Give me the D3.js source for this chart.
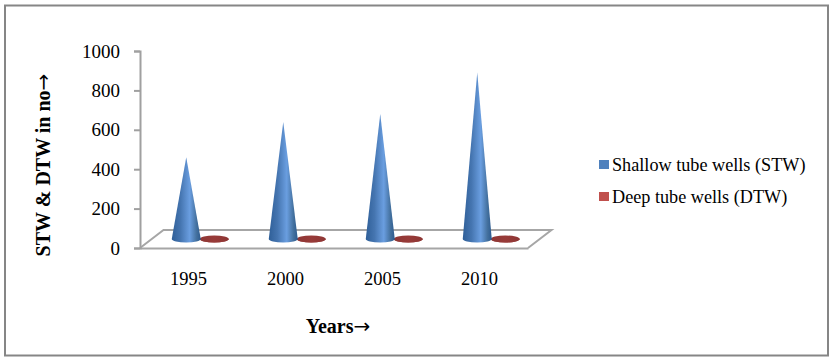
<!DOCTYPE html>
<html>
<head>
<meta charset="utf-8">
<script src="https://cdnjs.cloudflare.com/ajax/libs/d3/7.8.5/d3.min.js"></script>
<style>
html, body { margin: 0; padding: 0; background: #fff; }
text { font-family: "Liberation Serif", serif; fill: #000; }
</style>
</head>
<body>
<div id="chart"></div>
<script>
var years = ["1995", "2000", "2005", "2010"];
var seriesNames = ["Shallow tube wells (STW)", "Deep tube wells (DTW)"];
var stw = [415, 595, 635, 845];
var dtw = [4, 4, 4, 4];
var yTicks = [0, 200, 400, 600, 800, 1000];

var width = 834, height = 362;
var plotLeft = 140, plotRight = 528, plotBottom = 248, plotTop = 51;
var depthX = 23.5, depthY = 18;
var baseRx = 14.5, baseRy = 3.5;

var svg = d3.select("#chart").append("svg")
    .attr("width", width)
    .attr("height", height)
    .style("display", "block");

var defs = svg.append("defs");

function addGrad(id, stops) {
    var g = defs.append("linearGradient").attr("id", id)
        .attr("x1", "0%").attr("x2", "100%").attr("y1", "0%").attr("y2", "0%");
    stops.forEach(function(s) {
        g.append("stop").attr("offset", s[0]).attr("stop-color", s[1]);
    });
}
addGrad("blueCone", [["0%", "#2f5f98"], ["30%", "#4575b0"], ["62%", "#6a9ee0"], ["85%", "#44719f"], ["100%", "#2c5a8e"]]);
addGrad("redCone", [["0%", "#8e3634"], ["50%", "#983b39"], ["100%", "#8e3634"]]);

// outer frame
svg.append("rect")
    .attr("x", 5).attr("y", 5.5)
    .attr("width", 823).attr("height", 350)
    .attr("fill", "#fff")
    .attr("stroke", "#868686")
    .attr("stroke-width", 2);

var x = d3.scaleBand().domain(years).range([plotLeft, plotRight]);
var x1 = d3.scaleBand().domain(seriesNames).range([-28, 28]);
var y = d3.scaleLinear().domain([0, 1000]).range([plotBottom, plotTop]);

// floor
var floorLine = d3.line();
svg.append("path")
    .attr("d", floorLine([
        [plotLeft, plotBottom], [plotLeft + depthX, plotBottom - depthY],
        [plotRight + depthX, plotBottom - depthY], [plotRight, plotBottom]
    ]))
    .attr("fill", "none")
    .attr("stroke", "#a6a6a6")
    .attr("stroke-width", 2);

// axes
var xAxis = svg.append("g")
    .attr("transform", "translate(0," + plotBottom + ")")
    .call(d3.axisBottom(x).tickSize(0).tickPadding(24));
xAxis.select(".domain").attr("stroke", "#a6a6a6").attr("stroke-width", 2);
xAxis.selectAll("text").style("font-size", "18.5px").attr("font-family", null);

var yAxis = svg.append("g")
    .attr("transform", "translate(" + plotLeft + ",0)")
    .call(d3.axisLeft(y).tickValues(yTicks).tickSize(6).tickPadding(14).tickFormat(d3.format("d")));
yAxis.selectAll("path, line").attr("stroke", "#a0a0a0").attr("stroke-width", 2);
yAxis.selectAll("text").style("font-size", "19px").attr("font-family", null);

// cones stand at half depth of the floor
function conePath(cx, value) {
    var baseY = y(0) - depthY / 2;
    var tipY = y(value) - depthY / 2;
    return "M" + cx + "," + tipY +
        "L" + (cx + baseRx) + "," + baseY +
        "A" + baseRx + "," + baseRy + " 0 0 1 " + (cx - baseRx) + "," + baseY + "Z";
}
function baseEllipse(cx) {
    var baseY = y(0) - depthY / 2;
    return "M" + (cx - baseRx) + "," + baseY +
        "A" + baseRx + "," + baseRy + " 0 0 1 " + (cx + baseRx) + "," + baseY +
        "A" + baseRx + "," + baseRy + " 0 0 1 " + (cx - baseRx) + "," + baseY + "Z";
}
function centerX(year, name) {
    return x(year) + x.bandwidth() / 2 + x1(name) + x1.bandwidth() / 2 + depthX / 2;
}

svg.selectAll(".dtw")
    .data(years)
    .enter().append("path")
    .attr("class", "dtw")
    .attr("d", function(d) { return baseEllipse(centerX(d, seriesNames[1])); })
    .attr("fill", "url(#redCone)");

svg.selectAll(".dtwTip")
    .data(years)
    .enter().append("path")
    .attr("class", "dtwTip")
    .attr("d", function(d, i) { return conePath(centerX(d, seriesNames[1]), dtw[i]); })
    .attr("fill", "url(#redCone)");

svg.selectAll(".stw")
    .data(years)
    .enter().append("path")
    .attr("class", "stw")
    .attr("d", function(d, i) { return conePath(centerX(d, seriesNames[0]), stw[i]); })
    .attr("fill", "url(#blueCone)");

// axis titles
var yTitle = svg.append("text")
    .attr("transform", "translate(50,165) rotate(-90)")
    .attr("text-anchor", "middle")
    .style("font-size", "20px")
    .style("font-weight", "bold")
    .text("STW & DTW in no");
yTitle.append("tspan")
    .style("font-family", "'DejaVu Sans'")
    .style("font-weight", "normal")
    .text("→");

var xTitle = svg.append("text")
    .attr("x", 338).attr("y", 333)
    .attr("text-anchor", "middle")
    .style("font-size", "20px")
    .style("font-weight", "bold")
    .text("Years");
xTitle.append("tspan")
    .style("font-family", "'DejaVu Sans'")
    .style("font-weight", "normal")
    .text("→");

// legend
var legendColors = ["#4f81bd", "#c0504d"];
var legendY = d3.scalePoint().domain(seriesNames).range([165, 197]);
var legend = svg.selectAll(".legend")
    .data(seriesNames)
    .enter().append("g")
    .attr("class", "legend")
    .attr("transform", function(d) { return "translate(599," + legendY(d) + ")"; });
legend.append("rect")
    .attr("x", 0).attr("y", -5)
    .attr("width", 10).attr("height", 9)
    .attr("fill", function(d, i) { return legendColors[i]; });
legend.append("text")
    .attr("x", 13).attr("y", 6)
    .style("font-size", "18.2px")
    .text(function(d) { return d; });
</script>
</body>
</html>
